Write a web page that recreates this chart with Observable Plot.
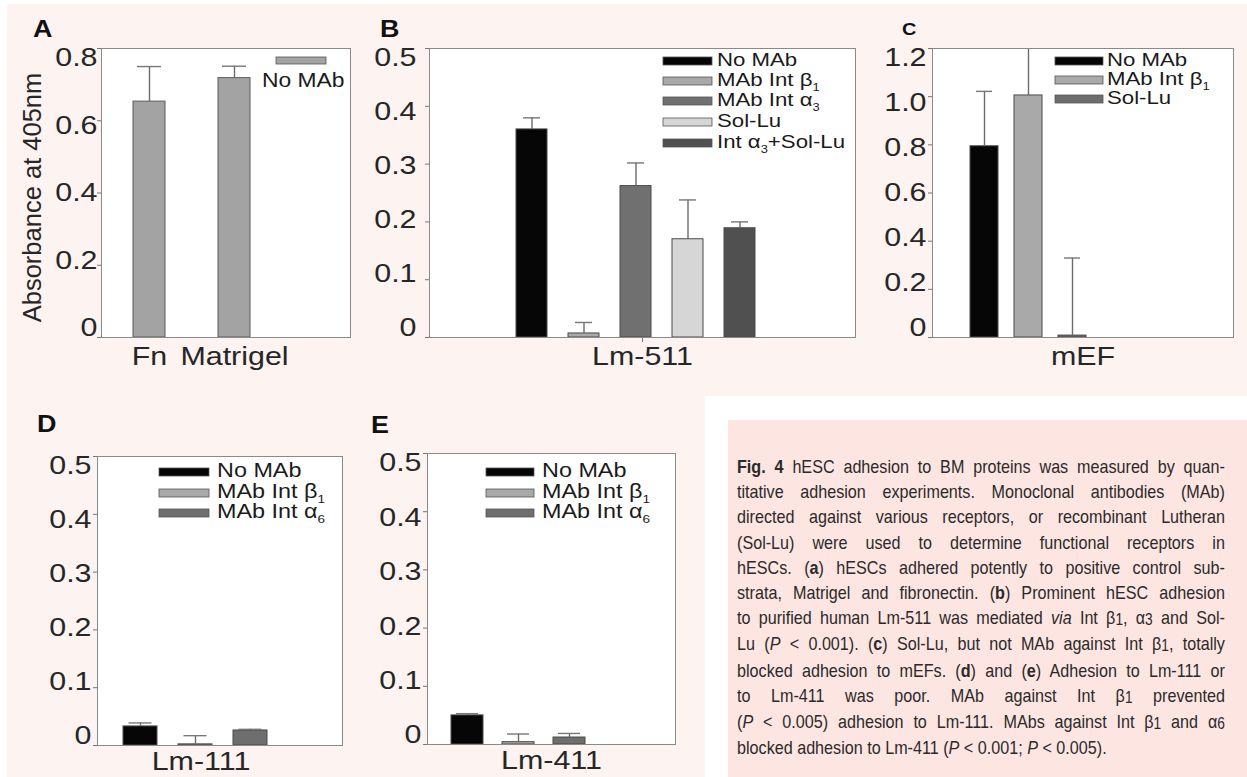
<!DOCTYPE html>
<html>
<head>
<meta charset="utf-8">
<script src="https://cdn.jsdelivr.net/npm/d3@7"></script>
<script src="https://cdn.jsdelivr.net/npm/@observablehq/plot@0.6"></script>
<style>
  html, body { margin: 0; padding: 0; background: #ffffff; }
  #fig { position: relative; width: 1247px; height: 777px; overflow: hidden; font-family: "Liberation Sans", Arial, Helvetica, sans-serif; }
  #bg { position: absolute; left: 7px; top: 4px; right: 0; bottom: 0; background: #fdf3f0; }
  #cut { position: absolute; left: 705px; top: 396px; right: 0; bottom: 0; background: #ffffff; }
  #capbox { position: absolute; left: 728px; top: 420px; right: 0; bottom: 0; background: #fde5e2; }
  #caption { position: absolute; left: 737px; top: 454px; width: 574px; transform: scaleX(0.85); transform-origin: 0 0;
             font-size: 19px; line-height: 25.2px; color: #2a2a2a; }
  #caption .ln { text-align: justify; text-align-last: justify; }
  #caption .ln.last { text-align-last: left; }
  #caption .sb { font-size: 0.85em; position: relative; top: 1px; }
  .panel { position: absolute; }
  .panel svg { max-width: none !important; }
</style>
</head>
<body>
<div id="fig">
  <div id="bg"></div>
  <div id="cut"></div>
  <div id="capbox"></div>
  <div id="caption">
    <div class="ln"><b>Fig. 4</b> hESC adhesion to BM proteins was measured by quan-</div>
    <div class="ln">titative adhesion experiments. Monoclonal antibodies (MAb)</div>
    <div class="ln">directed against various receptors, or recombinant Lutheran</div>
    <div class="ln">(Sol-Lu) were used to determine functional receptors in</div>
    <div class="ln">hESCs. (<b>a</b>) hESCs adhered potently to positive control sub-</div>
    <div class="ln">strata, Matrigel and fibronectin. (<b>b</b>) Prominent hESC adhesion</div>
    <div class="ln">to purified human Lm-511 was mediated <i>via</i> Int β<span class="sb">1</span>, α<span class="sb">3</span> and Sol-</div>
    <div class="ln">Lu (<i>P</i> &lt; 0.001). (<b>c</b>) Sol-Lu, but not MAb against Int β<span class="sb">1</span>, totally</div>
    <div class="ln">blocked adhesion to mEFs. (<b>d</b>) and (<b>e</b>) Adhesion to Lm-111 or</div>
    <div class="ln">to Lm-411 was poor. MAb against Int β<span class="sb">1</span> prevented</div>
    <div class="ln">(<i>P</i> &lt; 0.005) adhesion to Lm-111. MAbs against Int β<span class="sb">1</span> and α<span class="sb">6</span></div>
    <div class="ln last">blocked adhesion to Lm-411 (<i>P</i> &lt; 0.001; <i>P</i> &lt; 0.005).</div>
  </div>
</div>
<script>
// ---------------- DATA ----------------
// Panel A
const categoriesA = ["Fn", "Matrigel"];
const meansA = [0.653, 0.718];
const upperA = [0.750, 0.751];
const seriesA = ["No MAb"];
const ticksA = [0, 0.2, 0.4, 0.6, 0.8];
const yLabelA = "Absorbance at 405nm";

// Panel B
const groupB = "Lm-511";
const seriesB = ["No MAb", "MAb Int β₁", "MAb Int α₃", "Sol-Lu", "Int α₃+Sol-Lu"];
const meansB = [0.360, 0.007, 0.262, 0.170, 0.189];
const upperB = [0.380, 0.026, 0.302, 0.238, 0.200];
const ticksB = [0, 0.1, 0.2, 0.3, 0.4, 0.5];

// Panel C
const groupC = "mEF";
const seriesC = ["No MAb", "MAb Int β₁", "Sol-Lu"];
const meansC = [0.794, 1.005, 0.008];
const upperC = [1.022, 1.300, 0.330];
const ticksC = [0, 0.2, 0.4, 0.6, 0.8, 1.0, 1.2];

// Panel D
const groupD = "Lm-111";
const seriesD = ["No MAb", "MAb Int β₁", "MAb Int α₆"];
const meansD = [0.033, 0.002, 0.026];
const upperD = [0.039, 0.017, 0.028];
const ticksD = [0, 0.1, 0.2, 0.3, 0.4, 0.5];

// Panel E
const groupE = "Lm-411";
const seriesE = ["No MAb", "MAb Int β₁", "MAb Int α₆"];
const meansE = [0.050, 0.004, 0.012];
const upperE = [0.053, 0.018, 0.019];
const ticksE = [0, 0.1, 0.2, 0.3, 0.4, 0.5];

// Colours
const colorsA = ["#a3a3a3"];
const colorsB = ["#060606", "#a9a9a9", "#707070", "#d6d6d6", "#505050"];
const colorsC = ["#060606", "#a9a9a9", "#6e6e6e"];
const colorsDE = ["#060606", "#a9a9a9", "#6e6e6e"];

// ---------------- HELPERS ----------------
const FONT = '"Liberation Sans", Arial, Helvetica, sans-serif';
const K = 1.17;          // horizontal stretch of lettering, as in the reference
const LABEL_SQUEEZE = 0.935; // tick labels sit slightly inside their ticks in the reference
const ERR = "#6b6b6b";
const SVGNS = "http://www.w3.org/2000/svg";
const fmt = d => d === 0 ? "0" : d.toFixed(1);
const fig = document.getElementById("fig");

function baseStyle() {
  return {background: "transparent", fontSize: "26px", fontFamily: FONT, color: "#262626", overflow: "visible"};
}

function place(svg, left, top) {
  const div = document.createElement("div");
  div.className = "panel";
  div.style.left = left + "px";
  div.style.top = top + "px";
  div.style.width = svg.getAttribute("width") + "px";
  div.append(svg);
  fig.append(div);
}

function greyTicks(svg) {
  svg.querySelectorAll('g[aria-label$="tick"] path, g[aria-label$="tick"] line, g.tick line')
    .forEach(e => e.setAttribute("stroke", "#777"));
}

// Stretch every (non-rotated) text horizontally around its own anchor point,
// by wrapping it in a group; the text's own attributes are left untouched.
function stretch(svg, k) {
  Array.from(svg.querySelectorAll("text")).forEach(t => {
    if ((t.getAttribute("transform") || "").includes("rotate")) return;
    const b = t.getBBox();
    if (!b.width) return;
    const anchor = getComputedStyle(t).textAnchor;
    const lx = anchor === "end" ? b.x + b.width : anchor === "middle" ? b.x + b.width / 2 : b.x;
    const ly = b.y + b.height / 2;
    let px = lx, py = ly;
    const c = t.transform && t.transform.baseVal.consolidate();
    if (c) { const M = c.matrix; px = M.a * lx + M.c * ly + M.e; py = M.b * lx + M.d * ly + M.f; }
    const g = document.createElementNS(SVGNS, "g");
    t.parentNode.insertBefore(g, t);
    g.appendChild(t);
    g.setAttribute("transform", `translate(${px},${py}) scale(${k},1) translate(${-px},${-py})`);
  });
}

// Pull the y tick labels slightly toward the middle of the axis, as printed.
function squeezeYLabels(svg, ticks, mt, h, ml) {
  const max = ticks[ticks.length - 1], mid = mt + h / 2;
  const byText = new Map(ticks.map(v => [fmt(v), v]));
  const svgRect = svg.getBoundingClientRect();
  svg.querySelectorAll("text").forEach(t => {
    if (!byText.has(t.textContent)) return;
    const r = t.getBoundingClientRect();
    if (r.right - svgRect.left > ml) return; // only labels left of the frame
    const v = byText.get(t.textContent);
    const yp = mt + (1 - v / max) * h;
    const dy = (yp - mid) * (LABEL_SQUEEZE - 1);
    const p = t.parentNode;
    p.setAttribute("transform", `translate(0,${dy}) ` + (p.getAttribute("transform") || ""));
  });
}

const SUB = "₀₁₂₃₄₅₆₇₈₉";
function richLabel(t, label, fs) {
  const parts = label.split(/([₀-₉]+)/).filter(p => p);
  let shifted = false;
  parts.forEach(p => {
    if (/[₀-₉]/.test(p)) {
      t.append("tspan").attr("font-size", fs * 0.58).attr("dy", fs * 0.24)
        .text([...p].map(c => SUB.indexOf(c)).join(""));
      shifted = true;
    } else {
      const s = t.append("tspan").text(p);
      if (shifted) { s.attr("dy", -fs * 0.24); shifted = false; }
    }
  });
}

function legend(svg, ml, mt, L, series, colors) {
  const g = d3.select(svg).append("g")
    .attr("transform", `translate(${ml},${mt})`)
    .attr("font-family", FONT).attr("font-size", L.fs).attr("fill", "#1a1a1a")
    .attr("text-anchor", "start");
  series.forEach((s, i) => {
    const y = L.rows[i];
    g.append("rect").attr("x", L.sx).attr("y", y - 4).attr("width", L.sw).attr("height", 8)
      .attr("fill", colors[i]).attr("stroke", "#555").attr("stroke-width", 0.8);
    richLabel(g.append("text").attr("x", L.tx).attr("y", y + 5), s, L.fs);
  });
}

// ---------------- PANEL A ----------------
(function () {
  const [x0, x1, y0, y1] = [101, 350, 48, 337];
  const [mt, mr, mb, ml] = [48, 20, 50, 101];
  const rows = categoriesA.map((c, i) => ({cat: c, mean: meansA[i], upper: upperA[i]}));
  const svg = Plot.plot({
    width: x1 - x0 + ml + mr, height: y1 - y0 + mt + mb,
    marginLeft: ml, marginRight: mr, marginTop: mt, marginBottom: mb,
    style: baseStyle(),
    x: {domain: categoriesA, paddingInner: 0.628, paddingOuter: 0.762, align: 0.244, tickSize: 0, tickPadding: 9.5, label: null},
    y: {domain: [0, 0.8], ticks: ticksA, tickFormat: fmt, tickSize: 4, tickPadding: 0, label: null},
    marks: [
      Plot.frame({fill: "white", stroke: "none"}),
      Plot.barY(rows, {x: "cat", y: "mean", fill: colorsA[0], stroke: "#5a5a5a", strokeWidth: 1}),
      Plot.ruleX(rows, {x: "cat", y1: "mean", y2: "upper", stroke: ERR, strokeWidth: 1.4}),
      Plot.tickY(rows, {x: "cat", y: "upper", stroke: ERR, strokeWidth: 1.4, insetLeft: 4, insetRight: 4}),
      Plot.frame({stroke: "#8a8a8a"}),
      Plot.text([yLabelA], {frameAnchor: "left", textAnchor: "middle", rotate: -90, dx: -68.5, dy: 4.5, text: d => d, fontSize: 25.5, fill: "#262626"})
    ]
  });
  // legend: swatch above label
  const g = d3.select(svg).append("g").attr("transform", `translate(${ml},${mt})`)
    .attr("font-family", FONT).attr("font-size", 19.5).attr("fill", "#1a1a1a").attr("text-anchor", "start");
  g.append("rect").attr("x", 175).attr("y", 9).attr("width", 50).attr("height", 7)
    .attr("fill", colorsA[0]).attr("stroke", "#555").attr("stroke-width", 0.8);
  g.append("text").attr("x", 161).attr("y", 39).text(seriesA[0]);
  place(svg, x0 - ml, y0 - mt);
  greyTicks(svg);
  stretch(svg, K);
  squeezeYLabels(svg, ticksA, mt, y1 - y0, ml);
})();

// ---------------- GROUPED PANELS ----------------
function grouped(cfg) {
  const [x0, x1, y0, y1] = cfg.frame;
  const [mt, mr, mb, ml] = cfg.m;
  const rows = cfg.series.map((s, i) => ({group: cfg.group, series: s, mean: cfg.means[i], upper: cfg.upper[i]}));
  const svg = Plot.plot({
    width: x1 - x0 + ml + mr, height: y1 - y0 + mt + mb,
    marginLeft: ml, marginRight: mr, marginTop: mt, marginBottom: mb,
    style: baseStyle(),
    facet: {data: rows, x: "group"},
    fx: {padding: 0, axis: "bottom", label: null, tickSize: cfg.fxTick[0], tickPadding: cfg.fxTick[1]},
    x: {domain: cfg.series, axis: null, ...cfg.band},
    y: {domain: [0, cfg.ticks[cfg.ticks.length - 1]], ticks: cfg.ticks, tickFormat: fmt, tickSize: 4, tickPadding: cfg.yPad, label: null},
    color: {domain: cfg.series, range: cfg.colors},
    marks: [
      Plot.frame({fill: "white", stroke: "none"}),
      Plot.barY(rows, {x: "series", y: "mean", fill: "series", stroke: "#4a4a4a", strokeWidth: 1}),
      Plot.ruleX(rows, {x: "series", y1: "mean", y2: "upper", stroke: ERR, strokeWidth: 1.4, clip: true}),
      Plot.tickY(rows, {x: "series", y: "upper", stroke: ERR, strokeWidth: 1.4, insetLeft: cfg.cap, insetRight: cfg.cap, clip: true}),
      Plot.frame({stroke: "#8a8a8a"})
    ]
  });
  legend(svg, ml, mt, cfg.legend, cfg.series, cfg.colors);
  place(svg, x0 - ml, y0 - mt);
  greyTicks(svg);
  stretch(svg, K);
  squeezeYLabels(svg, cfg.ticks, mt, y1 - y0, ml);
  if (cfg.fxDx) {
    svg.querySelectorAll("text").forEach(t => {
      if (t.textContent === cfg.group) {
        const p = t.parentNode;
        p.setAttribute("transform", `translate(${cfg.fxDx},0) ` + (p.getAttribute("transform") || ""));
      }
    });
  }
}

grouped({
  frame: [429, 855, 48, 337], m: [48, 20, 50, 80],
  group: groupB, series: seriesB, means: meansB, upper: upperB, colors: colorsB, ticks: ticksB,
  band: {paddingInner: 0.396, paddingOuter: 1.718, align: 0.467},
  fxTick: [5, 4.5], yPad: 9, cap: 7,
  legend: {sx: 234, sw: 49, tx: 288, rows: [13, 33, 53, 74, 95], fs: 19}
});

grouped({
  frame: [932, 1233, 48, 337], m: [48, 12, 50, 80],
  group: groupC, series: seriesC, means: meansC, upper: upperC, colors: colorsC, ticks: ticksC,
  band: {paddingInner: 0.36, paddingOuter: 2.062, align: 0.207},
  fxTick: [0, 9.5], yPad: 2, cap: 6,
  legend: {sx: 123, sw: 48, tx: 175, rows: [13, 32, 51], fs: 19}
});

grouped({
  frame: [97, 342, 456, 745], m: [40, 20, 32, 95],
  group: groupD, series: seriesD, means: meansD, upper: upperD, colors: colorsDE, ticks: ticksD,
  band: {paddingInner: 0.382, paddingOuter: 0.918, align: 0.257},
  fxTick: [0, 6.5], yPad: 2, cap: 5.5, fxDx: -19,
  legend: {sx: 62, sw: 50, tx: 120, rows: [16, 37, 57], fs: 20}
});

grouped({
  frame: [427, 675, 453, 744], m: [40, 20, 33, 80],
  group: groupE, series: seriesE, means: meansE, upper: upperE, colors: colorsDE, ticks: ticksE,
  band: {paddingInner: 0.369, paddingOuter: 1.092, align: 0.213},
  fxTick: [0, 6.5], yPad: 2, cap: 5,
  legend: {sx: 59, sw: 48, tx: 115, rows: [19, 40, 60], fs: 20}
});

// ---------------- PANEL LETTERS ----------------
(function () {
  const ov = d3.select(fig).append("svg")
    .attr("width", 1247).attr("height", 777)
    .style("position", "absolute").style("left", 0).style("top", 0)
    .style("pointer-events", "none");
  const letters = [["A", 33, 37, 23], ["B", 380, 37, 23], ["C", 902, 35, 17], ["D", 37, 432, 23], ["E", 371, 433, 23]];
  letters.forEach(([s, x, y, fs]) => {
    ov.append("text").attr("x", x).attr("y", y).attr("font-family", FONT).attr("font-weight", "bold")
      .attr("font-size", fs).attr("fill", "#111").text(s);
  });
  stretch(ov.node(), K);
})();
</script>
</body>
</html>
